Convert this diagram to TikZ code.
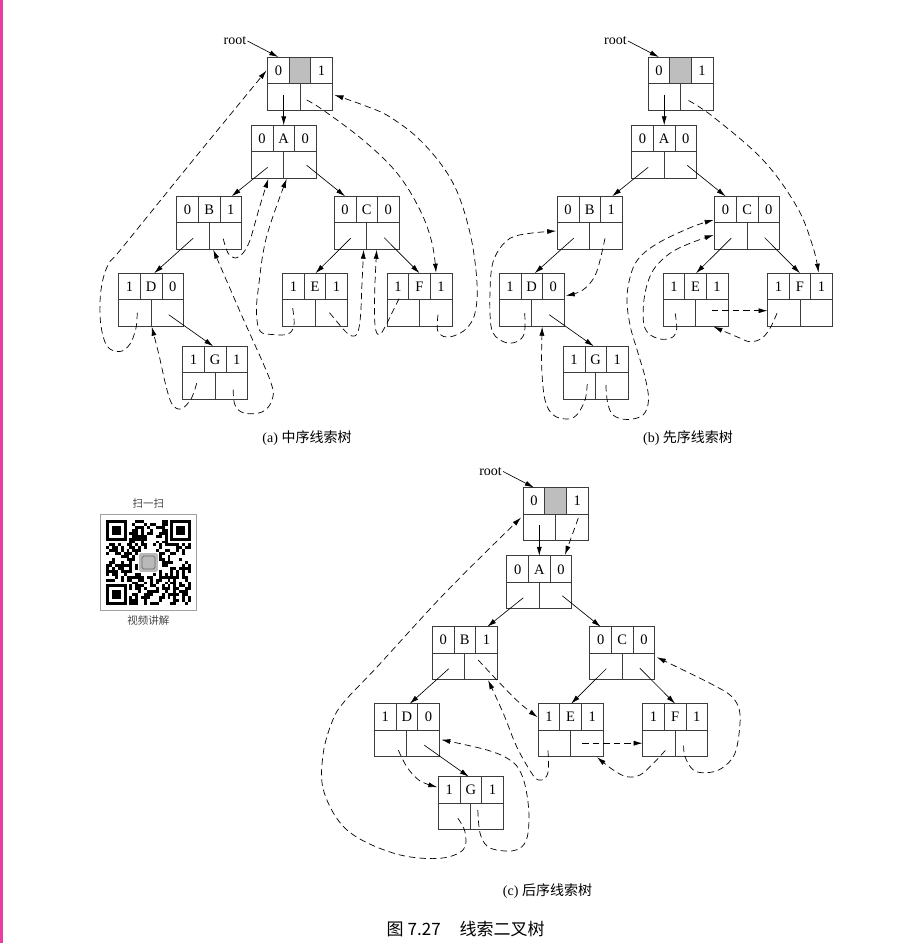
\documentclass[tikz,border=0pt]{standalone}
\usepackage{fontspec}
\setmainfont{Liberation Serif}
\newfontfamily\cjk{Noto Sans CJK SC}
\usetikzlibrary{calc,arrows.meta}
\definecolor{boxline}{RGB}{60,60,60}
\definecolor{cellgray}{RGB}{190,190,190}
\definecolor{edgepink}{RGB}{233,60,160}
\definecolor{qrframe}{RGB}{160,160,160}
\definecolor{qrtext}{RGB}{70,70,70}

% tree node: [fill of middle top cell]{name}{position}{ltag}{data}{rtag}
\newcommand{\tnode}[6][none]{%
  \node[tbox] (#2) at (#3) {};
  \path[fill=#1] ($(#2.north)+(-10.8,0)$) rectangle ($(#2.center)+(10.8,0)$);
  \draw[cellline] (#2.north west) rectangle (#2.south east)
    (#2.west) -- (#2.east)
    ($(#2.north)+(-10.8,0)$) -- ($(#2.center)+(-10.8,0)$)
    ($(#2.north)+(10.8,0)$) -- ($(#2.center)+(10.8,0)$)
    (#2.center) -- (#2.south);
  \node[celltext] (#2-lt) at ($(#2.center)+(-21.6,-13)$) {#4};
  \node[celltext] (#2-d) at ($(#2.center)+(0,-13)$) {#5};
  \node[celltext] (#2-rt) at ($(#2.center)+(21.6,-13)$) {#6};
  \coordinate (#2-lp) at ($(#2.center)+(-16,15.5)$);
  \coordinate (#2-rp) at ($(#2.center)+(17.5,15)$);
}

% whole tree: {prefix}{x offset}{y offset}
\newcommand{\drawtree}[3]{%
  \tnode[cellgray]{#1-h}{#2+300,#3+83.5}{0}{}{1}
  \tnode{#1-A}{#2+283.7,#3+151.8}{0}{A}{0}
  \tnode{#1-B}{#2+209.2,#3+222.7}{0}{B}{1}
  \tnode{#1-C}{#2+366.7,#3+222.7}{0}{C}{0}
  \tnode{#1-D}{#2+151.2,#3+299.7}{1}{D}{0}
  \tnode{#1-E}{#2+315,#3+299.7}{1}{E}{1}
  \tnode{#1-F}{#2+419.5,#3+299.7}{1}{F}{1}
  \tnode{#1-G}{#2+215.2,#3+372.7}{1}{G}{1}
  \node[rootlabel] (#1-rl) at (#2+235,#3+41) {root};
  \draw[child] (#1-rl.east) -- ($(#1-h.north)+(-21.7,0)$);
  \coordinate (#1-hp) at ($(#1-h.center)+(-16.3,11)$);
  \draw[child] (#1-hp) -- (#1-A.north);
  \coordinate (#1-Ar) at ($(#1-A.center)+(23,13.5)$);
  \draw[child] (#1-A-lp) -- ($(#1-B.north)+(22.5,0)$);
  \draw[child] (#1-Ar) -- ($(#1-C.north)+(-21.7,0)$);
  \draw[child] (#1-B-lp) -- ($(#1-D.north)+(3,0)$);
  \draw[child] (#1-D-rp) -- ($(#1-G.north)+(-2,0)$);
  \draw[child] (#1-C-lp) -- ($(#1-E.north)+(0.5,0)$);
  \draw[child] (#1-C-rp) -- (#1-F.north);
}

% thread: {start}{end}{intermediate points}
\newcommand{\thr}[3]{%
  \coordinate (ts) at #1;
  \coordinate (te) at #2;
  \draw[thread] plot[smooth,tension=0.6] coordinates {(ts) #3 (te)};
}

\begin{document}
\begin{tikzpicture}[x=1pt,y=-1pt,
  tbox/.style={draw=boxline,line width=0.8pt,minimum width=65pt,minimum height=53pt,inner sep=0pt,outer sep=0pt},
  cellline/.style={draw=boxline,line width=0.8pt},
  celltext/.style={font=\fontsize{14.5}{17}\selectfont,inner sep=0pt},
  rootlabel/.style={font=\fontsize{14}{16}\selectfont,inner sep=1pt},
  child/.style={draw=black,line width=0.65pt,-{Latex[length=9pt,width=5pt]}},
  thread/.style={draw=black,line width=0.7pt,dash pattern=on 6.5pt off 4pt,-{Latex[length=9pt,width=5pt]}},
  caption/.style={font=\fontsize{14}{16}\selectfont,inner sep=0pt},
  qrlabel/.style={font=\cjk\fontsize{10.5}{12}\selectfont,text=qrtext,inner sep=0pt},
]
\useasboundingbox (0,0) rectangle (923,943);
\fill[white] (0,0) rectangle (923,943);
\fill[edgepink] (0,0) rectangle (2.6,943);

% ---------- trees ----------
\drawtree{a}{0}{0}
\drawtree{b}{380.5}{0}
\drawtree{c}{255.6}{430.5}

% ---------- (a) inorder threads ----------
\thr{($(a-D.center)+(-14,13)$)}{($(a-h.west)+(-1,-13)$)}{(136,328) (130,344) (120,351.5) (107,346) (100.5,322) (101,290) (108,265) (122,248) (194,159)}
\thr{($(a-G.center)+(-18.5,10.5)$)}{($(a-D.south)+(0.5,0.5)$)}{(191,399) (181,409) (172,404) (166,386) (159,355)}
\thr{($(a-G.center)+(18,17)$)}{($(a-B.south)+(4,0.5)$)}{(235,405) (244,413) (262,412) (272,400) (270,380) (241.5,315)}
\thr{($(a-B.center)+(14,16)$)}{($(a-A.south)+(-15.4,0.5)$)}{(228,253) (235,258) (243,253) (250,240) (259,209)}
\thr{($(a-E.center)+(-22.3,8.5)$)}{($(a-A.south)+(3,0.5)$)}{(294,325) (288,334) (272,334.5) (260,331) (256.5,313) (258.5,287) (266.5,237)}
\thr{($(a-E.center)+(14.5,13)$)}{($(a-C.south)+(-3,0.5)$)}{(345,331) (352,336) (357.5,333) (360.5,316) (362,283)}
\thr{($(a-F.center)+(-20.5,-1)$)}{($(a-C.south)+(10,0.5)$)}{(390,317) (385,327) (380,334.5) (376,331) (374.5,315) (375,283)}
\thr{($(a-F.center)+(18.5,15)$)}{($(a-h.east)+(2,11.5)$)}{(437.5,330) (443.5,336.5) (453.5,336) (466.5,328.5) (475,313) (477,283) (470,233) (453,183) (423,143) (390,117) (363,105)}
\thr{($(a-h.center)+(6.7,16.5)$)}{($(a-F.north)+(16.5,-0.5)$)}{(323,110) (363,140) (397,173) (420,210) (432,243)}

% ---------- (b) preorder threads ----------
\thr{($(b-h.center)+(8,17)$)}{($(b-F.north)+(18.5,-0.5)$)}{(713,116.7) (763,160) (797,207) (813,247)}
\thr{($(b-B.center)+(15.3,15.6)$)}{($(b-D.east)+(1.5,-4)$)}{(601.7,253.3) (596.7,271.7) (590,283.3) (580,291.7)}
\thr{($(b-D.center)+(-7,13.5)$)}{($(b-B.west)+(-1,8.3)$)}{(524.3,333.3) (516.7,341.7) (505,342.3) (493.3,333.3) (490,313.3) (491,273.3) (496.7,253.3) (510,238.3) (530,233.3)}
\thr{($(b-G.center)+(-8.5,11.3)$)}{($(b-D.south)+(10.5,0.5)$)}{(585,400) (576.7,415) (566.7,419) (553.3,415) (545,400) (541.7,366.7)}
\thr{($(b-G.center)+(10.2,12.3)$)}{($(b-C.west)+(-1,-2.7)$)}{(607.5,402) (613,415) (627,419.5) (643,415) (648.5,400) (645,377) (638,353) (630,325) (627,296) (633,268) (644,253) (660,242) (677,233.5) (697,225)}
\thr{($(b-E.center)+(-20.3,13.6)$)}{($(b-C.west)+(-1,12.3)$)}{(676.7,328.3) (673.3,336.7) (661.7,339.3) (648.3,333.3) (643.3,320) (645,293.3) (653.3,270) (670,253.3) (690,243.3)}
\coordinate (bEr) at ($(b-E.center)+(16,11)$);
\coordinate (bFl) at ($(b-F.west)+(0,11)$);
\draw[thread] (bEr) -- (bFl);
\thr{($(b-F.center)+(-23,13.5)$)}{($(b-E.south)+(18,0.5)$)}{(770,328.3) (761.7,338.3) (750,341.7) (736.7,336.7)}

% ---------- (c) postorder threads ----------
\coordinate (cHr) at ($(c-h.center)+(22.7,4)$);
\coordinate (cAt) at ($(c-A.north)+(25.7,-1)$);
\draw[thread] (cHr) -- (cAt);
\thr{($(c-G.center)+(-13,15)$)}{($(c-h.west)+(-2,3.5)$)}{(465,832) (463,850) (437,858.5) (393,853) (347,830) (324,792) (323,755) (332,722) (344,702) (377,667) (446,592)}
\thr{($(c-G.center)+(7,7)$)}{($(c-D.east)+(2,9.5)$)}{(480,833) (487,846) (500,850.5) (516,850) (526,841) (529,820) (527,795) (521,773) (510,760) (487,750)}
\thr{($(c-D.center)+(-8.5,20)$)}{($(c-G.west)+(-1,-16)$)}{(406.7,766.7) (416.7,778.3) (425,783.3)}
\thr{($(c-B.center)+(13.3,6.7)$)}{($(c-E.west)+(-0.5,-13)$)}{(500,683.3) (520,703.3)}
\thr{($(c-E.center)+(-22.6,20.3)$)}{($(c-B.south)+(23.3,0.5)$)}{(548.3,770) (545,778.3) (538.3,780) (531.7,773.3) (516.7,746.7) (503.3,713.3)}
\coordinate (cEr) at ($(c-E.center)+(11.4,13)$);
\coordinate (cFl) at ($(c-F.west)+(0,13)$);
\draw[thread] (cEr) -- (cFl);
\thr{($(c-F.center)+(-9.8,20.3)$)}{($(c-E.south)+(26.4,0.5)$)}{(653.3,763.3) (640,775) (626.7,776.7) (613.3,770)}
\thr{($(c-F.center)+(8.5,15.3)$)}{($(c-C.east)+(2,4)$)}{(685,756.7) (693.3,770) (706.7,772.7) (721.7,768.3) (735,753.3) (740,723.3) (738.3,706.7) (730,695) (713.3,685) (686.7,671.7)}

% ---------- captions ----------
\node[caption] (capa) at (307,438) {(a) {\cjk 中序线索树}};
\node[caption] (capb) at (688,438) {(b) {\cjk 先序线索树}};
\node[caption] (capc) at (547.5,891) {(c) {\cjk 后序线索树}};
\node[caption,anchor=west,font=\cjk\fontsize{17}{19}\selectfont] (title) at (386.5,929) {图\hspace{4pt}7.27\hspace{19pt}线索二叉树};

% ---------- QR code ----------
\node[qrlabel] (qrtop) at (148.3,504) {扫一扫};
\node[qrlabel] (qrbot) at (148.3,621) {视频讲解};
\draw[qrframe,line width=1pt] (100,514.5) rectangle (196.5,610.5);
\def\qs{2.93}
\pgfmathsetseed{2718}
\foreach \i in {0,...,28}{
  \foreach \j in {0,...,28}{
    \pgfmathtruncatemacro{\qskip}{or(or(and((\i<8),(\j<8)),and((\i>20),(\j<8))),or(and((\i<8),(\j>20)),and(and((\i>10),(\i<18)),and((\j>10),(\j<18)))))}
    \ifnum\qskip=0
      \pgfmathrandominteger{\qr}{0}{99}
      \ifnum\qr<50 \fill[black] (106+\i*\qs,520+\j*\qs) rectangle ++(\qs,\qs);\fi
    \fi
  }
}
\foreach \fx/\fy in {0/0,22/0,0/22}{
  \fill[black] (106+\fx*\qs,520+\fy*\qs) rectangle ++(7*\qs,7*\qs);
  \fill[white] (106+\fx*\qs+\qs,520+\fy*\qs+\qs) rectangle ++(5*\qs,5*\qs);
  \fill[black] (106+\fx*\qs+2*\qs,520+\fy*\qs+2*\qs) rectangle ++(3*\qs,3*\qs);
}
\fill[gray!55,rounded corners=2pt] (106+11.3*\qs,520+11.3*\qs) rectangle ++(6.4*\qs,6.4*\qs);
\draw[gray!85!black,line width=0.8pt,rounded corners=1.5pt] (106+12.3*\qs,520+12.3*\qs) rectangle ++(4.4*\qs,4.4*\qs);
\end{tikzpicture}
\end{document}
